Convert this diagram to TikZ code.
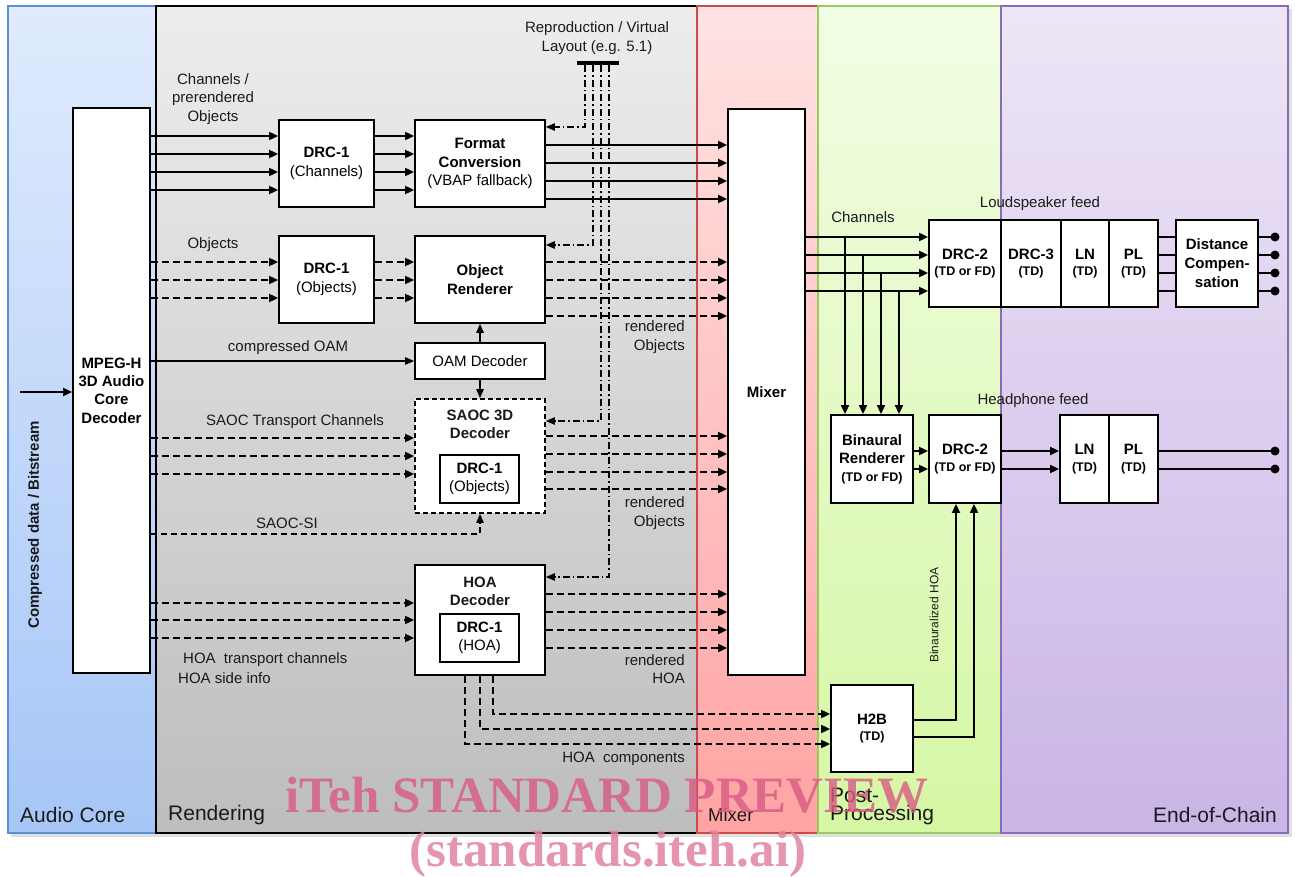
\documentclass[tikz,border=0pt]{standalone}
\usepackage{fontspec}
\setmainfont{Liberation Sans}
\newfontfamily\wmfont{Liberation Serif}
\usetikzlibrary{arrows.meta}
\definecolor{acTop}{HTML}{E0EBFD}\definecolor{acBot}{HTML}{A6C6F7}\definecolor{acBrd}{HTML}{5B8FD6}
\definecolor{rdTop}{HTML}{EDEDED}\definecolor{rdBot}{HTML}{BDBDBD}
\definecolor{mxTop}{HTML}{FFE3E3}\definecolor{mxBot}{HTML}{FFA3A3}\definecolor{mxBrd}{HTML}{CC4A4A}
\definecolor{ppTop}{HTML}{F1FDE4}\definecolor{ppBot}{HTML}{D6F7A4}\definecolor{ppBrd}{HTML}{9CC95C}
\definecolor{ecTop}{HTML}{EEE6F6}\definecolor{ecBot}{HTML}{C9B5E6}\definecolor{ecBrd}{HTML}{8A6BB5}
\definecolor{wmark}{HTML}{D85A85}
\definecolor{txt}{HTML}{1A1A1A}
\begin{document}
\begin{tikzpicture}[x=1pt,y=-1pt,
  lbl/.style={font=\fontsize{15}{18.5}\selectfont, inner sep=0, align=center, text=txt},
  box/.style={draw, line width=1.8pt, fill=white, inner sep=0, align=center, font=\fontsize{15}{18.5}\selectfont},
  arr/.style={line width=1.8pt, -{Triangle[length=9pt,width=8pt]}},
  darr/.style={arr, dash pattern=on 7pt off 4pt},
  thinarr/.style={line width=1.2pt, -{Triangle[length=9pt,width=7.5pt]}},
  thindash/.style={thinarr, dash pattern=on 6pt off 4pt},
  dd/.style={line width=1.2pt, dash pattern=on 7pt off 3pt on 1.5pt off 3pt, -{Triangle[length=9pt,width=7.5pt]}},
  plain/.style={line width=1.8pt},
  panellbl/.style={font=\fontsize{21}{23}\selectfont, inner sep=0, text=txt},
]
\useasboundingbox (0,0) rectangle (1295,877);
% shadow
\fill[black!12] (11,9) rectangle (1292,837);
% panels
\fill[top color=acTop, bottom color=acBot] (8,6) rectangle (156,833);
\draw[acBrd, line width=1.2pt] (8,6) rectangle (156,833);
\fill[top color=rdTop, bottom color=rdBot] (156,6) rectangle (697,833);
\draw[black, line width=1.2pt] (156,6) rectangle (697,833);
\fill[top color=mxTop, bottom color=mxBot] (697,6) rectangle (818,833);
\draw[mxBrd, line width=1.2pt] (697,6) rectangle (818,833);
\fill[top color=ppTop, bottom color=ppBot] (818,6) rectangle (1001,833);
\draw[ppBrd, line width=1.2pt] (818,6) rectangle (1001,833);
\fill[top color=ecTop, bottom color=ecBot] (1001,6) rectangle (1288,833);
\draw[ecBrd, line width=1.2pt] (1001,6) rectangle (1288,833);

\node[panellbl, anchor=west] (pl1) at (20,815) {Audio Core};
\node[panellbl, anchor=west] (pl2) at (168,815) {Rendering};
\node[panellbl, anchor=west, font=\fontsize{18.5}{20}\selectfont] (pl3) at (708,815) {Mixer};
\node[panellbl, anchor=west, align=left, font=\fontsize{21}{18}\selectfont] (pl4) at (830,806) {Post-\\Processing};
\node[panellbl, anchor=east] (pl5) at (1277,815) {End-of-Chain};

% ---------- blocks ----------
\node[box, font=\fontsize{15}{18.3}\selectfont\bfseries, minimum width=77, minimum height=565] (mpeg) at (111.5,390.5) {MPEG-H\\3D Audio\\Core\\Decoder};
\coordinate (inp) at (20,392);
\draw[arr] (inp) -- (mpeg.west |- inp);
\node[lbl, font=\fontsize{15}{18}\selectfont\bfseries, rotate=90] (cdb) at (35,525) {Compressed data / Bitstream};

\node[box, minimum width=95, minimum height=87] (drc1c) at (326.5,163.5) {\textbf{DRC-1}\\(Channels)};
\node[box, minimum width=130, minimum height=87] (fc) at (480,163.5) {\textbf{Format}\\\textbf{Conversion}\\(VBAP fallback)};
\node[box, minimum width=95, minimum height=87] (drc1o) at (326.5,279.5) {\textbf{DRC-1}\\(Objects)};
\node[box, minimum width=130, minimum height=87] (objr) at (480,279.5) {\textbf{Object}\\\textbf{Renderer}};
\node[box, minimum width=130, minimum height=36] (oam) at (480,361) {OAM Decoder};
\node[box, dash pattern=on 5pt off 3pt, minimum width=130, minimum height=114] (saoc) at (480,456) {};
\node[lbl, font=\fontsize{15}{18.5}\selectfont\bfseries] (saoct) at (480,424.5) {SAOC 3D\\Decoder};
\node[box, minimum width=79, minimum height=48] (saocdrc) at (479.5,479) {\textbf{DRC-1}\\(Objects)};
\node[box, minimum width=130, minimum height=110] (hoa) at (480,620) {};
\node[lbl, font=\fontsize{15}{18.5}\selectfont\bfseries] (hoat) at (480,591.5) {HOA\\Decoder};
\node[box, minimum width=79, minimum height=48] (hoadrc) at (479.5,638) {\textbf{DRC-1}\\(HOA)};
\node[box, minimum width=77, minimum height=566] (mixer) at (766.5,392) {\textbf{Mixer}};

% loudspeaker chain
\node[box, minimum width=72, minimum height=87] (drc2l) at (965,263.5) {\textbf{DRC-2}\\[-2pt]{\fontsize{12.5}{15}\selectfont\bfseries (TD or FD)}};
\node[box, minimum width=60, minimum height=87] (drc3) at (1031,263.5) {\textbf{DRC-3}\\[-2pt]{\fontsize{12.5}{15}\selectfont\bfseries (TD)}};
\node[box, minimum width=48, minimum height=87] (lnl) at (1085,263.5) {\textbf{LN}\\[-2pt]{\fontsize{12.5}{15}\selectfont\bfseries (TD)}};
\node[box, minimum width=49, minimum height=87] (pll) at (1133.5,263.5) {\textbf{PL}\\[-2pt]{\fontsize{12.5}{15}\selectfont\bfseries (TD)}};
\node[box, font=\fontsize{15}{19}\selectfont\bfseries, minimum width=82, minimum height=87] (dc) at (1217,263.5) {Distance\\Compen-\\sation};

% headphone chain
\node[box, minimum width=82, minimum height=88] (bin) at (872,459) {\textbf{Binaural}\\\textbf{Renderer}\\[-1pt]{\fontsize{12.5}{15}\selectfont\bfseries (TD or FD)}};
\node[box, minimum width=72, minimum height=88] (drc2h) at (965,459) {\textbf{DRC-2}\\[-2pt]{\fontsize{12.5}{15}\selectfont\bfseries (TD or FD)}};
\node[box, minimum width=49, minimum height=88] (lnh) at (1084.5,459) {\textbf{LN}\\[-2pt]{\fontsize{12.5}{15}\selectfont\bfseries (TD)}};
\node[box, minimum width=49, minimum height=88] (plh) at (1133.5,459) {\textbf{PL}\\[-2pt]{\fontsize{12.5}{15}\selectfont\bfseries (TD)}};
\node[box, minimum width=82, minimum height=87] (h2b) at (872,728.5) {\textbf{H2B}\\[-2pt]{\fontsize{12.5}{15}\selectfont\bfseries (TD)}};

% ---------- labels ----------
\node[lbl] (l1) at (213,99) {Channels /\\prerendered\\Objects};
\node[lbl] (l2) at (213,245) {Objects};
\node[lbl] (l3) at (288,348) {compressed OAM};
\node[lbl] (l4) at (295,422) {SAOC Transport Channels};
\node[lbl] (l5) at (287,523) {SAOC-SI};
\node[lbl, anchor=west] (l6) at (183,660) {HOA\hspace{4pt} transport channels};
\node[lbl, anchor=west] (l7) at (178,678) {HOA side info};
\node[lbl] (l8) at (597,38) {Reproduction / Virtual\\Layout (e.g. 5.1)};
\node[lbl, anchor=east, align=right] (l9) at (685,337) {rendered\\Objects};
\node[lbl, anchor=east, align=right] (l10) at (685,513) {rendered\\Objects};
\node[lbl, anchor=east, align=right] (l11) at (685,669) {rendered\\HOA};
\node[lbl, anchor=east] (l12) at (685,759) {HOA\hspace{4pt} components};
\node[lbl] (l13) at (863,217) {Channels};
\node[lbl] (l14) at (1040,204) {Loudspeaker feed};
\node[lbl] (l15) at (1033,401) {Headphone feed};
\node[lbl, font=\fontsize{12}{14}\selectfont, rotate=90] (l16) at (934,615) {Binauralized HOA};

% ---------- connectors: channels ----------
\foreach \y in {136,154,172,190}{
  \draw[arr] (mpeg.east |- 0,\y) -- (drc1c.west |- 0,\y);
  \draw[arr] (drc1c.east |- 0,\y) -- (fc.west |- 0,\y);
}
\foreach \y in {145,163,181,199}{
  \draw[arr] (fc.east |- 0,\y) -- (mixer.west |- 0,\y);
}
% objects
\foreach \y in {262,280,298}{
  \draw[darr] (mpeg.east |- 0,\y) -- (drc1o.west |- 0,\y);
  \draw[darr] (drc1o.east |- 0,\y) -- (objr.west |- 0,\y);
}
\foreach \y in {262,280,298,316}{
  \draw[darr] (objr.east |- 0,\y) -- (mixer.west |- 0,\y);
}
% OAM
\draw[thinarr] (mpeg.east |- oam) -- (oam.west);
\draw[thinarr] (oam.north) -- (objr.south);
\draw[thinarr] (oam.south) -- (saoc.north);
% SAOC
\foreach \y in {438,456,474}{
  \draw[darr] (mpeg.east |- 0,\y) -- (saoc.west |- 0,\y);
}
\foreach \y in {436,454,472,489}{
  \draw[darr] (saoc.east |- 0,\y) -- (mixer.west |- 0,\y);
}
\draw[thindash] (mpeg.east |- 0,534) -- (480,534) -- (saoc.south);
% HOA
\foreach \y in {603,620,638}{
  \draw[darr] (mpeg.east |- 0,\y) -- (hoa.west |- 0,\y);
}
\foreach \y in {594,612,630,648}{
  \draw[darr] (hoa.east |- 0,\y) -- (mixer.west |- 0,\y);
}
\draw[darr] (hoa.south -| 493,0) -- (493,714) -- (h2b.west |- 0,714);
\draw[darr] (hoa.south -| 480,0) -- (480,729) -- (h2b.west |- 0,729);
\draw[darr] (hoa.south -| 465,0) -- (465,744) -- (h2b.west |- 0,744);

% reproduction layout bar
\node[fill=black, minimum width=42, minimum height=4.5, inner sep=0] (bar) at (598,63) {};
\draw[dd] (bar.south -| 585,0) -- (585,127) -- (fc.east |- 0,127);
\draw[dd] (bar.south -| 593,0) -- (593,245) -- (objr.east |- 0,245);
\draw[dd] (bar.south -| 601,0) -- (601,421) -- (saoc.east |- 0,421);
\draw[dd] (bar.south -| 609,0) -- (609,577) -- (hoa.east |- 0,577);

% mixer outputs
\foreach \y/\x in {237/845,255/863,273/881,291/899}{
  \draw[arr] (mixer.east |- 0,\y) -- (drc2l.west |- 0,\y);
  \draw[arr] (\x,\y) -- (bin.north -| \x,0);
}
% loudspeaker outputs
\foreach \y [count=\i] in {237,255,273,291}{
  \draw[plain] (pll.east |- 0,\y) -- (dc.west |- 0,\y);
  \coordinate (ls\i) at (1275,\y);
  \draw[plain] (dc.east |- 0,\y) -- (ls\i);
  \fill (ls\i) circle (4.5);
}
% headphone
\foreach \y [count=\i] in {451,469}{
  \draw[arr] (bin.east |- 0,\y) -- (drc2h.west |- 0,\y);
  \draw[arr] (drc2h.east |- 0,\y) -- (lnh.west |- 0,\y);
  \coordinate (hp\i) at (1275,\y);
  \draw[plain] (plh.east |- 0,\y) -- (hp\i);
  \fill (hp\i) circle (4.5);
}
% H2B to DRC-2
\draw[arr] (h2b.east |- 0,720) -- (956,720) -- (drc2h.south -| 956,0);
\draw[arr] (h2b.east |- 0,737) -- (974,737) -- (drc2h.south -| 974,0);

% watermark
\node[font=\wmfont\bfseries\fontsize{51}{55}\selectfont, text=wmark, text opacity=0.8, inner sep=0, anchor=base] (wm1) at (607,812) {iTeh STANDARD PREVIEW};
\node[font=\wmfont\bfseries\fontsize{51}{55}\selectfont, text=wmark!75, text opacity=0.85, inner sep=0, anchor=base] (wm2) at (608,866) {(standards.iteh.ai)};
\end{tikzpicture}
\end{document}
